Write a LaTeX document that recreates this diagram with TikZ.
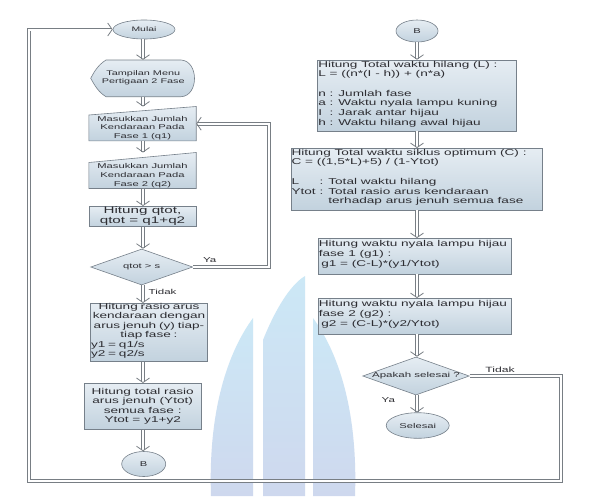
\documentclass[tikz,border=0pt]{standalone}
\usepackage{fontspec}
\setmainfont[FakeStretch=1.6]{Liberation Sans}
\usetikzlibrary{shapes.geometric,arrows.meta}
\definecolor{btop}{RGB}{230,237,243}
\definecolor{bbot}{RGB}{194,210,222}
\definecolor{bline}{RGB}{118,128,138}
\definecolor{cline}{RGB}{120,126,132}
\definecolor{wmtop}{RGB}{204,232,246}
\definecolor{wmbot}{RGB}{206,216,238}
\definecolor{txt}{RGB}{45,45,50}
\tikzset{
  shp/.style={draw=bline, line width=0.6pt, top color=btop, bottom color=bbot},
  boxn/.style={shp, rectangle, inner sep=0pt},
  ghost/.style={rectangle, inner sep=0pt, draw=none},
  ell/.style={shp, ellipse, inner sep=0pt},
  dia/.style={shp, diamond, inner sep=0pt, aspect=2.8},
  conn/.style={draw=cline, line width=0.8pt, double=white, double distance=2pt,
     -{Straight Barb[length=4.5pt,width=13pt]}},
  smalltxt/.style={font=\fontsize{7}{8.8}\selectfont, text=txt, inner sep=0pt, align=center},
  bigtxt/.style={font=\fontsize{8.5}{9.5}\selectfont, text=txt, inner sep=0pt, align=center},
  righttxt/.style={font=\fontsize{8.5}{9.7}\selectfont, text=txt, inner sep=0pt, align=left, anchor=north west},
  wm/.style={top color=wmtop, bottom color=wmbot, draw=none}
}
\begin{document}
\begin{tikzpicture}[x=1pt, y=-1pt]
\useasboundingbox (0,0) rectangle (609,496);
\fill[white] (0,0) rectangle (609,496);

% watermark
\path[wm] (253,318) -- (253,496) -- (211,496) .. controls (208,410) and (228,352) .. (253,318) -- cycle;
\path[wm] (263,496) -- (263,340) .. controls (275,310) and (290,285) .. (305,276) -- (305,496) -- cycle;
\path[wm] (313,318) -- (313,496) -- (355,496) .. controls (358,410) and (338,352) .. (313,318) -- cycle;

% ---------------- left column ----------------
\node[ell, minimum width=62pt, minimum height=19pt, font=\fontsize{6.5}{8}\selectfont, text=txt] (mulai) at (144,29.5) {Mulai};

\node[ghost, minimum width=104pt, minimum height=36.7pt] (disp) at (143,78.3) {};
\path[shp] (106,60) -- (181,60) .. controls (199,61) and (199,96) .. (181,96.7) -- (106,96.7)
  .. controls (98,92) and (94,84) .. (90.7,78.3) .. controls (94,72) and (98,65) .. (106,60) -- cycle;
\node[smalltxt, font=\fontsize{6.8}{8.4}\selectfont] (disptxt) at (143.3,77.5) {Tampilan Menu\\Pertigaan 2 Fase};

\node[ghost, minimum width=107pt, minimum height=34pt] (in1) at (142.5,123.7) {};
\path[shp] (in1.south west) -- (in1.south east) -- (in1.north east) -- ([yshift=-8.5pt]in1.north west) -- cycle;
\node[smalltxt] (in1txt) at (142.5,128) {Masukkan Jumlah\\Kendaraan Pada\\Fase 1 (q1)};

\node[ghost, minimum width=107pt, minimum height=35.6pt] (in2) at (142.5,170.5) {};
\path[shp] (in2.south west) -- (in2.south east) -- (in2.north east) -- ([yshift=-10pt]in2.north west) -- cycle;
\node[smalltxt] (in2txt) at (142.5,175.5) {Masukkan Jumlah\\Kendaraan Pada\\Fase 2 (q2)};

\node[boxn, minimum width=107pt, minimum height=20.4pt, font=\fontsize{9.5}{10}\selectfont, text=txt, align=center] (qtot) at (142.5,216.5) {Hitung qtot,\\qtot = q1+q2};

\node[dia, minimum width=102pt, minimum height=36pt, font=\fontsize{7}{8}\selectfont, text=txt] (d1) at (141.7,267) {qtot > s};

\node[boxn, minimum width=116.6pt, minimum height=58.4pt] (rasio) at (149,332.5) {};
\node[bigtxt, text width=116pt] (rasiotxt) at (149,331) {Hitung rasio arus\\kendaraan dengan\\arus jenuh (y) tiap-\\tiap fase :\\
  \makebox[116pt][l]{y1 = q1/s}\\\makebox[116pt][l]{y2 = q2/s}};

\node[boxn, minimum width=116.7pt, minimum height=46pt, font=\fontsize{8.5}{9.3}\selectfont, text=txt, align=center] (total) at (142.7,406.3) {Hitung total rasio\\arus jenuh (Ytot)\\semua fase :\\Ytot = y1+y2};

\node[ell, minimum width=44pt, minimum height=25pt, font=\fontsize{7}{8}\selectfont, text=txt] (b1) at (143.7,464) {B};

% ---------------- right column ----------------
\node[ell, minimum width=42pt, minimum height=22pt, font=\fontsize{7}{8}\selectfont, text=txt] (b2) at (417,31) {B};

\node[boxn, minimum width=198.3pt, minimum height=71pt] (r1) at (416.9,95.5) {};
\node[righttxt, xshift=0.6pt, yshift=-1pt] (r1txt) at (r1.north west) {Hitung Total waktu hilang (L) :\\
L = ((n*(I - h)) + (n*a)\\[9.7pt]
n : Jumlah fase\\
a : Waktu nyala lampu kuning\\
\rlap{I}\hphantom{h} : Jarak antar hijau\\
h : Waktu hilang awal hijau};

\node[boxn, minimum width=251.3pt, minimum height=61.7pt] (r2) at (416.7,179.2) {};
\node[righttxt, xshift=0.6pt, yshift=-0.8pt] (r2txt) at (r2.north west) {Hitung Total waktu siklus optimum (C) :\\
C = ((1,5*L)+5) / (1-Ytot)\\[9.7pt]
\rlap{L}\hphantom{Ytot} : Total waktu hilang\\
Ytot : Total rasio arus kendaraan\\
\hphantom{Ytot : }terhadap arus jenuh semua fase};

\node[boxn, minimum width=193.4pt, minimum height=35.7pt] (r3) at (415,256.2) {};
\node[righttxt, xshift=0.6pt, yshift=-2.2pt] (r3txt) at (r3.north west) {Hitung waktu nyala lampu hijau\\
fase 1 (g1) :\\
\hspace*{2.5pt}g1 = (C-L)*(y1/Ytot)};

\node[boxn, minimum width=193.4pt, minimum height=35.7pt] (r4) at (415,316.2) {};
\node[righttxt, xshift=0.6pt, yshift=-2.2pt] (r4txt) at (r4.north west) {Hitung waktu nyala lampu hijau\\
fase 2 (g2) :\\
\hspace*{2.5pt}g2 = (C-L)*(y2/Ytot)};

\node[dia, minimum width=102.3pt, minimum height=33.4pt, font=\fontsize{7.2}{8}\selectfont, text=txt] (d2) at (416,376) {Apakah selesai ?};

\node[ell, minimum width=63pt, minimum height=25.6pt, font=\fontsize{7}{8}\selectfont, text=txt] (sel) at (417.7,425.5) {Selesai};

% ---------------- connectors ----------------
\coordinate (lx) at (143,0);
\coordinate (rx) at (417,0);
\draw[conn] (mulai.south -| lx) -- (disp.north -| lx);
\draw[conn] (disp.south -| lx) -- (in1.north -| lx);
\draw[conn] (in1.south -| lx) -- (in2.north -| lx);
\draw[conn] (in2.south -| lx) -- (qtot.north -| lx);
\draw[conn] (qtot.south -| lx) -- (d1.north -| lx);
\draw[conn] (d1.south -| lx) -- (rasio.north -| lx);
\draw[conn] (rasio.south -| lx) -- (total.north -| lx);
\draw[conn] (total.south -| lx) -- (b1.north -| lx);

\coordinate (ya1) at (269,267);
\coordinate (ya2) at (269,123.7);
\draw[conn] (d1.east) -- (ya1) -- (ya2) -- (in1.east);

\draw[conn] (b2.south -| rx) -- (r1.north -| rx);
\draw[conn] (r1.south -| rx) -- (r2.north -| rx);
\draw[conn] (r2.south -| rx) -- (r3.north -| rx);
\draw[conn] (r3.south -| rx) -- (r4.north -| rx);
\draw[conn] (r4.south -| rx) -- (d2.north -| rx);
\draw[conn] (d2.south -| rx) -- (sel.north -| rx);

\coordinate (cA) at (561,376);
\coordinate (cB) at (561,481);
\coordinate (cC) at (29,481);
\coordinate (cD) at (29,29.5);
\draw[conn] (d2.east) -- (cA) -- (cB) -- (cC) -- (cD) -- (mulai.west);

% labels
\node[smalltxt, font=\fontsize{7.2}{8}\selectfont] (ya1lbl) at (209.7,260) {Ya};
\node[smalltxt, font=\fontsize{7.2}{8}\selectfont, anchor=west] (td1lbl) at (148.5,291.7) {Tidak};
\node[smalltxt, font=\fontsize{7.6}{8}\selectfont] (td2lbl) at (500,370) {Tidak};
\node[smalltxt, font=\fontsize{7.2}{8}\selectfont] (ya2lbl) at (388.3,400) {Ya};
\end{tikzpicture}
\end{document}
